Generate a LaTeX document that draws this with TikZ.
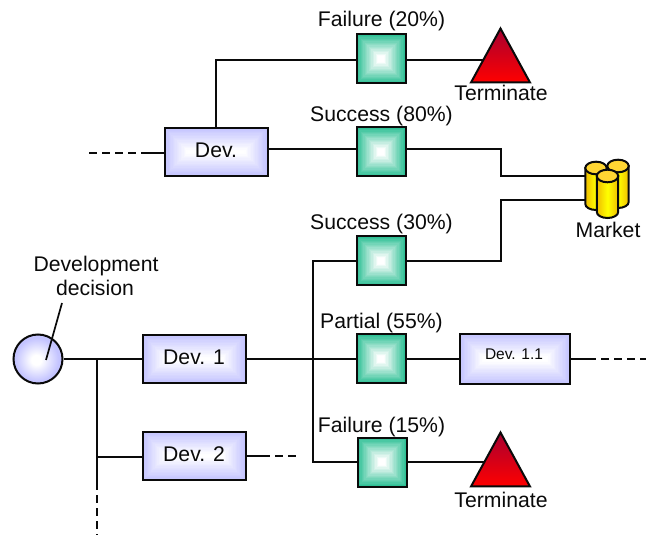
\documentclass[tikz,border=0pt]{standalone}
\usepackage{fontspec}
\setmainfont{Liberation Sans}
\usetikzlibrary{shapes.geometric,backgrounds,calc,shadings}
\definecolor{linecol}{HTML}{0A0A0A}
\definecolor{sqedge}{HTML}{2FC095}
\definecolor{boxedge}{HTML}{C4C4FF}
\definecolor{trtop}{HTML}{A80030}
\definecolor{trbot}{HTML}{FF0000}
\definecolor{cyltop}{HTML}{FFD633}
\definecolor{cylside}{HTML}{EFBE00}
\definecolor{cylmid}{HTML}{FFFF00}
\pgfdeclareradialshading{orbshade}{\pgfpoint{-2bp}{-1bp}}{
  color(0bp)=(white); color(5bp)=(white); color(22bp)=(boxedge); color(50bp)=(boxedge)}
% layered gradient: equal insets from the rim of a node, rim colour to white
\newcommand{\layered}[3]{%
  \foreach \k in {0,...,#3}{%
    \pgfmathsetmacro{\dd}{\k*24.5/#3}%
    \pgfmathsetmacro{\mixv}{max(0,100*(1-\k/(#3*#2)))}%
    \fill[#1!\mixv!white] ($(path picture bounding box.south west)+(\dd,-\dd)$)
      rectangle ($(path picture bounding box.north east)+(-\dd,\dd)$);%
  }}
\tikzset{
  conn/.style={draw=linecol,line width=1.9pt},
  dashconn/.style={draw=linecol,line width=1.9pt,dash pattern=on 8pt off 5pt},
  sqnode/.style={draw=linecol,line width=2pt,minimum width=49pt,minimum height=49pt,inner sep=0pt,
    path picture={\layered{sqedge}{0.85}{18}}},
  devbox/.style={draw=linecol,line width=2pt,inner sep=0pt,
    path picture={\layered{boxedge}{0.9}{18}}},
  trinode/.style={draw=linecol,line width=2pt,isosceles triangle,shape border rotate=90,
    isosceles triangle stretches,minimum width=59pt,minimum height=54pt,inner sep=0pt,
    top color=trtop,bottom color=trbot},
  cylbody/.style={draw=linecol,line width=2pt,left color=cylside,right color=cylside,middle color=cylmid},
  cyltopf/.style={draw=linecol,line width=2pt,fill=cyltop},
  lab/.style={anchor=base,inner sep=0pt,font=\fontsize{21.2}{24}\selectfont,text=linecol},
}
\newcommand{\cylinder}[3]{% cx, top-centre y, bottom y
  \path[cylbody] (#1-10.7,#2) -- (#1-10.7,#3-6) arc[start angle=180,end angle=360,x radius=10.7,y radius=-6] -- (#1+10.7,#2) -- cycle;
  \path[cyltopf] (#1,#2) ellipse[x radius=10.7,y radius=6.3];
}
\begin{document}
\begin{tikzpicture}[x=1pt,y=-1pt]
\useasboundingbox (0,0) rectangle (651,537);

% decision
\node[circle,draw=linecol,line width=2pt,minimum size=49pt,inner sep=0pt,shading=orbshade] (dec) at (38,359) {};

% development boxes
\node[devbox,minimum width=103pt,minimum height=48pt] (dev)  at (216,152) {};
\node[devbox,minimum width=103pt,minimum height=48pt] (dev1) at (194,359) {};
\node[devbox,minimum width=103pt,minimum height=48pt] (dev2) at (194,456) {};
\node[devbox,minimum width=110pt,minimum height=50pt] (dev11) at (515,359) {};

% chance squares
\node[sqnode] (s1) at (381,59) {};
\node[sqnode] (s2) at (381,152) {};
\node[sqnode] (s3) at (381,261) {};
\node[sqnode] (s4) at (381,359) {};
\node[sqnode] (s5) at (382,462) {};

% terminate triangles
\node[trinode] (t1) at (500.5,65) {};
\node[trinode] (t2) at (500.5,469) {};

% market
\cylinder{596}{168}{210}
\cylinder{618}{166}{208}
\cylinder{607.5}{176}{218}
\coordinate (mkt1) at (586,176);
\coordinate (mkt2) at (586,200);

% free ends
\coordinate (devL) at (89,153);
\coordinate (devLs) at (145,153);
\coordinate (d2R) at (298,456);
\coordinate (d2Rs) at (262,456);
\coordinate (d11R) at (646,359);
\coordinate (d11Rs) at (588,359);
\coordinate (busB) at (97,535);
\coordinate (busBs) at (97,482);
\coordinate (bus1) at (97,359);
\coordinate (bus2) at (97,457);
\coordinate (hub) at (313,359);
\coordinate (hubend) at (323,359);
\coordinate (up) at (216,60);
\coordinate (jog1) at (501,149);
\coordinate (jog2) at (501,176);
\coordinate (jog3) at (501,200);
\coordinate (ptrA) at (46,360);
\coordinate (ptrB) at (62,303);

\begin{scope}[on background layer]
  \path[conn] (dec.east) -- (dev1.west);
  \path[conn] (bus1) -- (busBs);
  \path[dashconn] (busBs) -- (busB);
  \path[conn] (bus2) -- (bus2 -| dev2.west);
  \path[conn] (dev2.east |- d2Rs) -- (d2Rs);
  \path[dashconn] (d2Rs) -- (d2R);
  \path[conn] (dev1.east) -- (hubend);
  \path[conn] (s3.west) -| (hub) |- (s5.west);
  \path[conn] (hub) -- (s4.west);
  \path[conn] (s4.east) -- (dev11.west);
  \path[conn] (dev11.east) -- (d11Rs);
  \path[dashconn] (d11Rs) -- (d11R);
  \path[conn] (s5.east) -- (s5.east -| t2.apex);
  \path[conn] (dev.north -| up) -- (up) -- (s1.west |- up);
  \path[conn] (s1.east |- up) -- (up -| t1.apex);
  \path[dashconn] (devL) -- (devLs);
  \path[conn] (devLs) -- (dev.west |- devLs);
  \path[conn] (dev.east |- jog1) -- (s2.west |- jog1);
  \path[conn] (s2.east |- jog1) -- (jog1) -- (jog2) -- (mkt1);
  \path[conn] (s3.east) -- (s3.east -| jog3) -- (jog3) -- (mkt2);
\end{scope}
\path[conn,line width=1.7pt] (ptrA) -- (ptrB);

% labels
\node[lab] (l1) at (381.5,26.5) {Failure (20\%)};
\node[lab] (l2) at (381.5,121.5) {Success (80\%)};
\node[lab] (l3) at (381.5,229.5) {Success (30\%)};
\node[lab] (l4) at (381.5,328.5) {Partial (55\%)};
\node[lab] (l5) at (381.5,432) {Failure (15\%)};
\node[lab] (l6) at (501,100.5) {Terminate};
\node[lab] (l7) at (501,507) {Terminate};
\node[lab] (l8) at (608,238) {Market};
\node[lab] (l9) at (96,271.5) {Development};
\node[lab] (l10) at (95,295.5) {decision};
\node[lab] (l11) at (216,157.5) {Dev.};
\node[lab] (l12) at (194,365) {Dev. 1};
\node[lab] (l13) at (194,461) {Dev. 2};
\node[lab,font=\fontsize{15.5}{18}\selectfont] (l14) at (514,360) {Dev. 1.1};
\end{tikzpicture}
\end{document}
